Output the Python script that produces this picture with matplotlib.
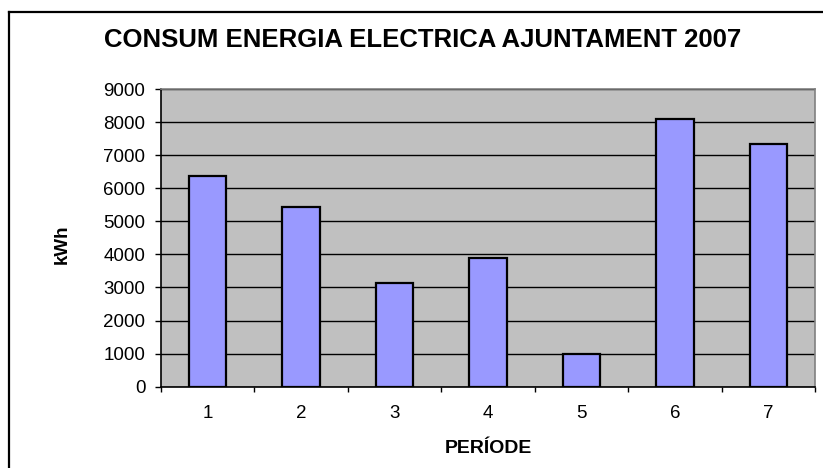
import matplotlib
matplotlib.use("Agg")
import matplotlib.pyplot as plt
from matplotlib.lines import Line2D

plt.rcParams['font.family'] = ['Liberation Sans', 'DejaVu Sans']

# data
periodes = [1, 2, 3, 4, 5, 6, 7]
consum_kwh = [6380, 5440, 3150, 3900, 990, 8100, 7340]
yticks = [0, 1000, 2000, 3000, 4000, 5000, 6000, 7000, 8000, 9000]

W, H = 823, 468
fig = plt.figure(figsize=(W / 100, H / 100), dpi=100)
fig.patch.set_facecolor('white')

# plot area
ax = fig.add_axes([161 / W, 1 - 386.7 / H, (815 - 161) / W, (386.7 - 89) / H])
ax.set_facecolor('#C0C0C0')
ax.bar(periodes, consum_kwh, width=0.4, color='#9999FF',
       edgecolor='black', linewidth=1.6, zorder=3)

ax.set_xlim(0.5, 7.5)
ax.set_ylim(0, 9000)
ax.set_yticks(yticks)
ax.set_xticks(periodes)
ax.set_xticks([p + 0.5 for p in [0] + periodes], minor=True)

# gridlines (black, behind bars)
ax.yaxis.grid(True, color='black', linewidth=1.0, zorder=1)
ax.set_axisbelow(True)

for s in ['left', 'bottom']:
    ax.spines[s].set_color('black')
    ax.spines[s].set_linewidth(1.2)
for s in ['top', 'right']:
    ax.spines[s].set_color('#808080')
    ax.spines[s].set_linewidth(1.2)

ax.tick_params(axis='y', direction='out', length=4.3, width=1, color='black',
               pad=7, labelsize=13.5)
ax.tick_params(axis='x', which='major', length=0, pad=13, labelsize=13.5)
ax.tick_params(axis='x', which='minor', direction='out', length=3.6, width=1,
               color='black')

ax.set_ylabel('kWh', fontsize=13.5, fontweight='bold')
ax.yaxis.set_label_coords(-0.138, 0.48)
ax.set_xlabel('PERÍODE', fontsize=14, fontweight='bold', va='center')
ax.xaxis.set_label_coords(0.5, -0.206)

fig.text(423 / W, 1 - 40 / H, 'CONSUM ENERGIA ELECTRICA AJUNTAMENT 2007',
         ha='center', va='center', fontsize=18.5, fontweight='bold')

# outer chart border (right/bottom lie outside the picture)
bx, by = 9 / W, 1 - 12 / H
fig.add_artist(Line2D([bx, bx], [0, by], color='black', linewidth=1.6))
fig.add_artist(Line2D([bx, 1], [by, by], color='black', linewidth=1.6))

fig.savefig('out.png', dpi=100)
